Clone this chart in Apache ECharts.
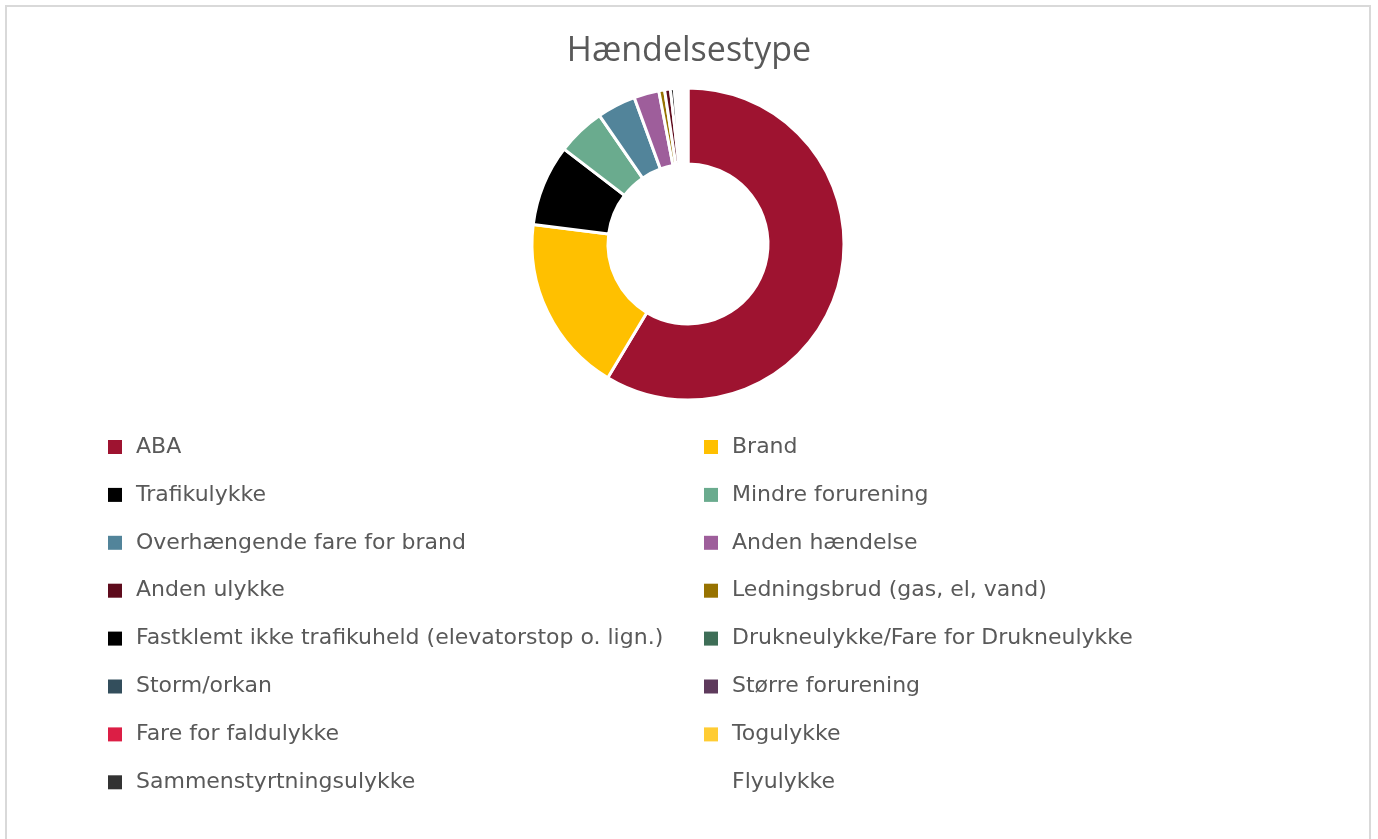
<!DOCTYPE html>
<html>
<head>
<meta charset="utf-8">
<title>Hændelsestype</title>
<script src="https://cdn.jsdelivr.net/npm/echarts@6/dist/echarts.min.js"></script>
<style>
  html, body { margin: 0; padding: 0; background: #ffffff; }
  #chart { width: 1378px; height: 839px; }
</style>
</head>
<body>
<div id="chart"></div>
<script>
// Incident types in the order the slices run clockwise from 12 o'clock
const categories = [
  'ABA', 'Brand', 'Trafikulykke', 'Mindre forurening', 'Overhængende fare for brand',
  'Anden hændelse', 'Ledningsbrud (gas, el, vand)', 'Anden ulykke',
  'Fastklemt ikke trafikuheld (elevatorstop o. lign.)', 'Drukneulykke/Fare for Drukneulykke',
  'Storm/orkan', 'Større forurening', 'Fare for faldulykke', 'Togulykke',
  'Sammenstyrtningsulykke', 'Flyulykke'
];
const counts = [293, 92, 42, 25, 20, 13, 3, 3, 2, 1, 1, 1, 1, 1, 1, 1];
const colors = [
  '#9E1330', '#FFC000', '#000000', '#6AAB8E', '#52849A',
  '#9E5E9B', '#977200', '#5E0B1C', '#000000', '#3E6E57',
  '#334E5C', '#5E3A5C', '#DC1E45', '#FFCC33', '#333333',
  'rgba(0,0,0,0)'
];
// Legend layout: two columns, filled row by row
const legendLeft = [
  'ABA', 'Trafikulykke', 'Overhængende fare for brand', 'Anden ulykke',
  'Fastklemt ikke trafikuheld (elevatorstop o. lign.)', 'Storm/orkan',
  'Fare for faldulykke', 'Sammenstyrtningsulykke'
];
const legendRight = [
  'Brand', 'Mindre forurening', 'Anden hændelse', 'Ledningsbrud (gas, el, vand)',
  'Drukneulykke/Fare for Drukneulykke', 'Større forurening', 'Togulykke', 'Flyulykke'
];

const pieData = categories.map((name, i) => ({
  name: name,
  value: counts[i],
  itemStyle: { color: colors[i] }
}));

const legendText = {
  fontFamily: 'DejaVu Sans',
  fontSize: 22,
  color: '#595959',
  lineHeight: 24,
  padding: [0, 0, 0, 9]
};

// The unfilled slice (Flyulykke) gets no legend swatch
function legendItems(names) {
  return names.map(name => {
    const c = colors[categories.indexOf(name)];
    return { name: name, itemStyle: { color: c, opacity: c === 'rgba(0,0,0,0)' ? 0 : 1 } };
  });
}

function legendColumn(left, names) {
  return {
    orient: 'vertical',
    left: left,
    top: 435,
    padding: 0,
    icon: 'rect',
    itemWidth: 14,
    itemHeight: 14,
    itemGap: 23.9,
    selectedMode: false,
    itemStyle: { borderWidth: 0 },
    data: legendItems(names),
    textStyle: legendText
  };
}

const chart = echarts.init(document.getElementById('chart'), null, { renderer: 'canvas' });
chart.setOption({
  animation: false,
  backgroundColor: '#ffffff',
  title: {
    text: 'Hændelsestype',
    left: 'center',
    top: 29,
    textStyle: {
      fontFamily: 'Open Sans',
      fontSize: 34,
      fontWeight: 'normal',
      color: '#595959'
    }
  },
  legend: [legendColumn(108, legendLeft), legendColumn(704, legendRight)],
  graphic: [{
    type: 'rect',
    shape: { x: 6, y: 6, width: 1364, height: 850 },
    style: { fill: 'none', stroke: '#D9D9D9', lineWidth: 2 },
    silent: true
  }],
  series: [{
    type: 'pie',
    center: [688, 244],
    radius: [80, 156],
    startAngle: 90,
    clockwise: true,
    avoidLabelOverlap: false,
    label: { show: false },
    labelLine: { show: false },
    emphasis: { disabled: true },
    itemStyle: { borderColor: '#ffffff', borderWidth: 3 },
    data: pieData
  }]
});
</script>
</body>
</html>
